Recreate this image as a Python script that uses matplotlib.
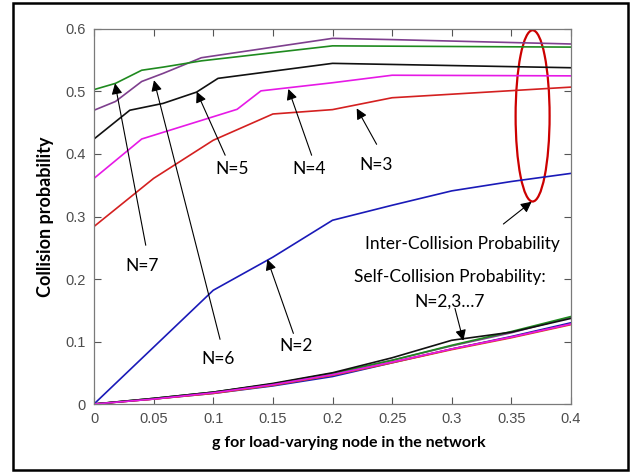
import matplotlib
matplotlib.use('Agg')
import matplotlib.pyplot as plt
from matplotlib.patches import Ellipse, Rectangle

# inter-collision probability, one curve per N
x_n7 = [0, 0.018, 0.04, 0.058, 0.09, 0.2, 0.4]
y_n7 = [0.503, 0.513, 0.534, 0.539, 0.549, 0.573, 0.571]
x_n6 = [0, 0.018, 0.04, 0.058, 0.09, 0.2, 0.25, 0.4]
y_n6 = [0.470, 0.484, 0.516, 0.529, 0.554, 0.585, 0.583, 0.576]
x_n5 = [0, 0.03, 0.058, 0.086, 0.104, 0.2, 0.4]
y_n5 = [0.424, 0.470, 0.481, 0.499, 0.521, 0.545, 0.538]
x_n4 = [0, 0.04, 0.12, 0.14, 0.2, 0.25, 0.4]
y_n4 = [0.361, 0.424, 0.4715, 0.501, 0.514, 0.526, 0.525]
x_n3 = [0, 0.05, 0.1, 0.15, 0.2, 0.25, 0.4]
y_n3 = [0.284, 0.361, 0.422, 0.464, 0.471, 0.490, 0.507]
x_n2 = [0, 0.1, 0.15, 0.2, 0.25, 0.3, 0.35, 0.4]
y_n2 = [0, 0.182, 0.235, 0.294, 0.318, 0.341, 0.356, 0.369]

# self-collision probability, N=2..7
x_self = [0, 0.05, 0.1, 0.15, 0.2, 0.25, 0.3, 0.35, 0.4]
self_n2 = [0, 0.008, 0.017, 0.029, 0.044, 0.066, 0.088, 0.108, 0.130]
self_n3 = [0, 0.008, 0.017, 0.030, 0.046, 0.066, 0.087, 0.106, 0.127]
self_n4 = [0, 0.008, 0.018, 0.031, 0.047, 0.067, 0.088, 0.107, 0.128]
self_n5 = [0, 0.009, 0.019, 0.033, 0.050, 0.074, 0.102, 0.115, 0.137]
self_n6 = [0, 0.009, 0.019, 0.032, 0.049, 0.070, 0.093, 0.114, 0.139]
self_n7 = [0, 0.009, 0.019, 0.032, 0.049, 0.070, 0.094, 0.116, 0.140]

xticks = [0, 0.05, 0.1, 0.15, 0.2, 0.25, 0.3, 0.35, 0.4]
xticklabels = ['0', '0.05', '0.1', '0.15', '0.2', '0.25', '0.3', '0.35', '0.4']
yticks = [0, 0.1, 0.2, 0.3, 0.4, 0.5, 0.6]
yticklabels = ['0', '0.1', '0.2', '0.3', '0.4', '0.5', '0.6']

c_blue = '#1a1ab8'
c_red = '#d42020'
c_mag = '#e619e6'
c_black = '#111111'
c_purple = '#7e3f8e'
c_green = '#1f8a1f'

fig = plt.figure(figsize=(6.36, 4.72), dpi=100)
ax = fig.add_axes([0.1478, 0.144, 0.75, 0.7946])

lw = 1.2
ax.plot(x_n2, y_n2, color=c_blue, lw=lw)
ax.plot(x_n3, y_n3, color=c_red, lw=lw)
ax.plot(x_n4, y_n4, color=c_mag, lw=lw)
ax.plot(x_n5, y_n5, color=c_black, lw=lw)
ax.plot(x_n6, y_n6, color=c_purple, lw=lw)
ax.plot(x_n7, y_n7, color=c_green, lw=lw)

ax.plot(x_self, self_n2, color=c_blue, lw=lw)
ax.plot(x_self, self_n3, color='#d95319', lw=lw)
ax.plot(x_self, self_n4, color=c_red, lw=lw)
ax.plot(x_self, self_n6, color=c_purple, lw=lw)
ax.plot(x_self, self_n7, color=c_green, lw=lw)
ax.plot(x_self, self_n5, color=c_black, lw=lw)
ax.plot(x_self, self_n4, color=c_mag, lw=lw)

ax.set_xlim(0, 0.4)
ax.set_ylim(0, 0.6)
ax.set_xticks(xticks)
ax.set_xticklabels(xticklabels)
ax.set_yticks(yticks)
ax.set_yticklabels(yticklabels)
ax.tick_params(direction='in', top=True, right=True, length=5, width=0.8,
               color='#555555', labelcolor='#4d4d4d', labelsize=10.5, pad=6)
for lab in ax.get_xticklabels() + ax.get_yticklabels():
    lab.set_family('Liberation Sans')
for sp in ax.spines.values():
    sp.set_color('#7a7a7a')
    sp.set_linewidth(0.9)

ax.set_xlabel('g for load-varying node in the network', labelpad=9,
              family='Lato', fontweight='bold', fontsize=11.5)
ax.xaxis.set_label_coords(0.535, -0.085)
ax.set_ylabel('Collision probability', labelpad=8, fontsize=13,
              family='Lato', fontweight='bold')

arrow = dict(arrowstyle='-|>', color='k', lw=0.8, mutation_scale=16,
             shrinkA=0, shrinkB=0)
txt = dict(family='Lato', fontsize=12.5, ha='center', va='center')

# (label, label pos, arrow tail, arrow tip)
notes = [
    ('N=7', (0.040, 0.221), (0.0434, 0.254), (0.0176, 0.513)),
    ('N=6', (0.104, 0.0715), (0.1057, 0.1035), (0.0503, 0.518)),
    ('N=5', (0.1155, 0.376), (0.110, 0.398), (0.0861, 0.4997)),
    ('N=4', (0.1806, 0.376), (0.1825, 0.398), (0.163, 0.504)),
    ('N=3', (0.2365, 0.3824), (0.237, 0.4155), (0.2203, 0.473)),
    ('N=2', (0.1694, 0.0928), (0.1672, 0.113), (0.1454, 0.2315)),
]
for label, pos, tail, tip in notes:
    ax.annotate('', xy=tip, xytext=tail, arrowprops=arrow)
    ax.text(pos[0], pos[1], label, **txt)

ax.annotate('', xy=(0.367, 0.3237), xytext=(0.3433, 0.288), arrowprops=arrow)
ax.text(0.309, 0.256, 'Inter-Collision Probability', **txt)
ax.text(0.2985, 0.2037, 'Self-Collision Probability:', **txt)
ax.text(0.2985, 0.164, 'N=2,3\u20267', **txt)
ax.annotate('', xy=(0.3097, 0.1013), xytext=(0.3027, 0.153), arrowprops=arrow)

ax.add_patch(Ellipse((0.3678, 0.461), 0.0285, 0.274, fill=False,
                     edgecolor='#cc0000', lw=1.6, clip_on=False))

fig.patches.append(Rectangle((0.0204, 0.0042), 0.967, 0.9894, transform=fig.transFigure,
                             fill=False, edgecolor='k', lw=1.8))

fig.savefig('out.png', dpi=100)
